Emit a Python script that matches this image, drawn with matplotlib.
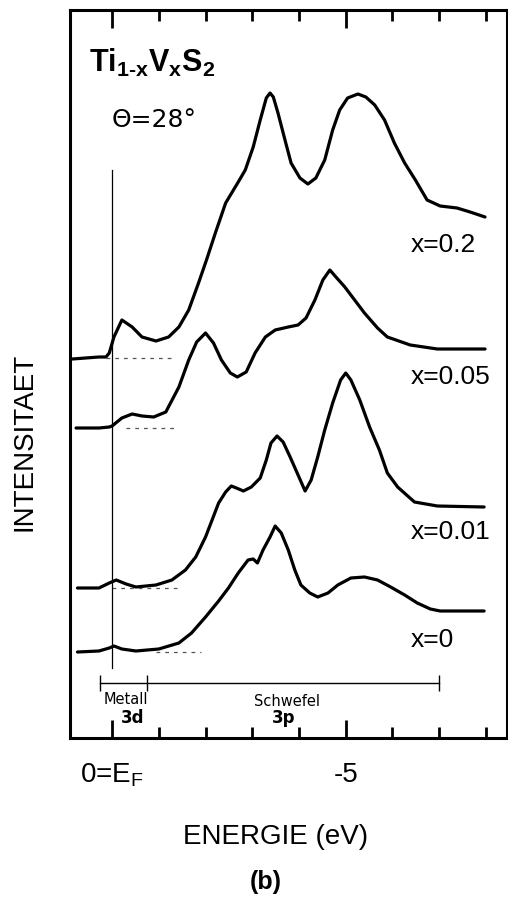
import matplotlib
matplotlib.use("Agg")
import matplotlib.pyplot as plt
from matplotlib.ticker import FixedLocator

plt.rcParams['font.family'] = ['Liberation Sans', 'DejaVu Sans']
plt.rcParams['mathtext.fontset'] = 'custom'
plt.rcParams['mathtext.rm'] = 'Liberation Sans'
plt.rcParams['mathtext.bf'] = 'Liberation Sans:bold'
plt.rcParams['mathtext.it'] = 'Liberation Sans:italic'

# photoemission spectra, energy in eV (0 = E_F), intensity in arbitrary units (curves offset)
e_x020 = [0.85, 0.28, 0.13, 0.06, -0.04, -0.21, -0.43, -0.64, -0.94, -1.21, -1.43, -1.64,
          -1.85, -2.02, -2.21, -2.43, -2.70, -2.85, -3.02, -3.17, -3.30, -3.38, -3.45,
          -3.55, -3.70, -3.83, -4.02, -4.19, -4.36, -4.55, -4.72, -4.87, -5.04, -5.26, -5.43,
          -5.62, -5.83, -6.04, -6.26, -6.49, -6.74, -7.02, -7.38, -7.66, -7.98]
i_x020 = [379, 381, 381, 385, 401, 418, 411, 401, 397, 401, 411, 428,
          455, 478, 505, 535, 556, 568, 591, 618, 640, 645, 641,
          625, 598, 575, 560, 554, 560, 578, 608, 628, 640, 644, 641,
          633, 618, 595, 575, 558, 538, 532, 530, 526, 521]

e_x005 = [0.77, 0.28, 0.06, 0.00, -0.21, -0.43, -0.64, -0.89, -1.15, -1.43, -1.64, -1.81,
          -2.00, -2.17, -2.34, -2.53, -2.68, -2.87, -3.06, -3.28, -3.49, -3.77, -3.98, -4.15,
          -4.34, -4.51, -4.66, -4.79, -4.98, -5.19, -5.40, -5.68, -5.89, -6.38, -6.96, -7.98]
i_x005 = [310, 310, 311, 312, 320, 324, 322, 321, 326, 351, 378, 396,
          405, 395, 378, 365, 361, 366, 385, 401, 408, 411, 413, 420,
          438, 458, 468, 461, 451, 438, 425, 410, 401, 393, 389, 389]

e_x001 = [0.74, 0.28, 0.06, -0.09, -0.30, -0.51, -0.94, -1.28, -1.57, -1.79, -2.00, -2.28,
          -2.43, -2.55, -2.66, -2.81, -2.98, -3.17, -3.30, -3.40, -3.53, -3.66, -3.81, -3.98,
          -4.13, -4.26, -4.40, -4.55, -4.72, -4.89, -5.00, -5.11, -5.30, -5.51, -5.72, -5.89,
          -6.11, -6.47, -6.96, -7.96]
i_x001 = [150, 150, 155, 158, 154, 151, 153, 158, 168, 181, 201, 235,
          246, 252, 250, 247, 251, 260, 278, 295, 302, 296, 281, 263,
          247, 258, 281, 308, 335, 358, 365, 358, 338, 311, 288, 265,
          251, 236, 232, 231]

e_x000 = [0.74, 0.28, 0.06, -0.04, -0.21, -0.51, -1.00, -1.43, -1.70, -2.00, -2.28, -2.49,
          -2.70, -2.91, -3.02, -3.11, -3.23, -3.38, -3.49, -3.62, -3.77, -3.91, -4.04, -4.23,
          -4.40, -4.62, -4.83, -5.11, -5.40, -5.68, -5.96, -6.26, -6.53, -6.81, -7.02, -7.96]
i_x000 = [86, 87, 90, 92, 89, 87, 89, 95, 105, 121, 137, 150,
          165, 178, 179, 175, 188, 201, 212, 205, 188, 168, 153, 145,
          141, 145, 153, 160, 161, 158, 151, 143, 135, 129, 127, 127]

series = [(e_x020, i_x020), (e_x005, i_x005), (e_x001, i_x001), (e_x000, i_x000)]
labels = ['x=0.2', 'x=0.05', 'x=0.01', 'x=0']
label_y = [493, 361, 206, 98]

# background (dashed) lines: start, end energy and level
bg_start = [0.13, -0.30, 0.00, -0.94]
bg_end = [-1.32, -1.32, -1.38, -1.91]
bg_level = [380, 310, 150, 86]

# bands bracket
band_edges = [0.26, -0.74, -7.0]

fig = plt.figure(figsize=(5.08, 8.97), dpi=100)
ax = fig.add_axes([70 / 508, 1 - 738 / 897, 437 / 508, 728 / 897])
ax.set_xlim(0.9, -8.45)
ax.set_ylim(0, 728)

for (e, i) in series:
    ax.plot(e, i, color='black', lw=2.3, solid_joinstyle='round', solid_capstyle='round')

for s, t, lv in zip(bg_start, bg_end, bg_level):
    ax.plot([s, t], [lv, lv], color='#555555', lw=0.9, ls=(0, (3, 4)))

for lab, ly in zip(labels, label_y):
    ax.text(-6.40, ly, lab, fontsize=19, ha='left', va='center')

# Fermi level marker
ax.plot([0, 0], [70, 568], color='black', lw=0.9)

# Metall 3d / Schwefel 3p ranges
ax.plot([band_edges[0], band_edges[-1]], [55, 55], color='black', lw=1.0)
ax.plot(band_edges, [55] * 3, ls='none', marker='|', ms=11, mew=1.0, color='black')
small = dict(family='DejaVu Sans', ha='center', va='center')
ax.text(-0.30, 39, 'Metall', fontsize=10.5, **small)
ax.text(-0.43, 20, '3d', fontsize=12, fontweight='bold', **small)
ax.text(-3.74, 37, 'Schwefel', fontsize=10.5, **small)
ax.text(-3.66, 20, '3p', fontsize=12, fontweight='bold', **small)

ax.text(0.49, 675, '$\\mathbf{Ti}_{\\mathbf{1\u2010x}}\\mathbf{V}_{\\mathbf{x}}\\mathbf{S}_{\\mathbf{2}}$',
        fontsize=22, ha='left', va='center')
ax.text(0.0, 618, 'Θ=28°', fontsize=18, family='DejaVu Sans', ha='left', va='center')

ax.xaxis.set_major_locator(FixedLocator([0, -5]))
ax.xaxis.set_minor_locator(FixedLocator([-1, -2, -3, -4, -6, -7, -8]))
ax.set_xticklabels([r'0=E$_\mathregular{F}$', '-5'], fontsize=20)
ax.tick_params(axis='x', which='major', direction='in', length=13, width=2,
               top=True, bottom=True, pad=17)
ax.tick_params(axis='x', which='minor', direction='in', length=8, width=2,
               top=True, bottom=True)
ax.set_yticks([])
for sp in ax.spines.values():
    sp.set_linewidth(2.2)

fig.text(25 / 508, 1 - 442 / 897, 'INTENSITAET', fontsize=20, rotation=90,
         ha='center', va='center')
fig.text(276 / 508, 1 - 837 / 897, 'ENERGIE (eV)', fontsize=20, ha='center', va='center')
fig.text(266 / 508, 1 - 882 / 897, '(b)', fontsize=18, fontweight='bold',
         ha='center', va='center')

fig.savefig('out.png', dpi=100)
